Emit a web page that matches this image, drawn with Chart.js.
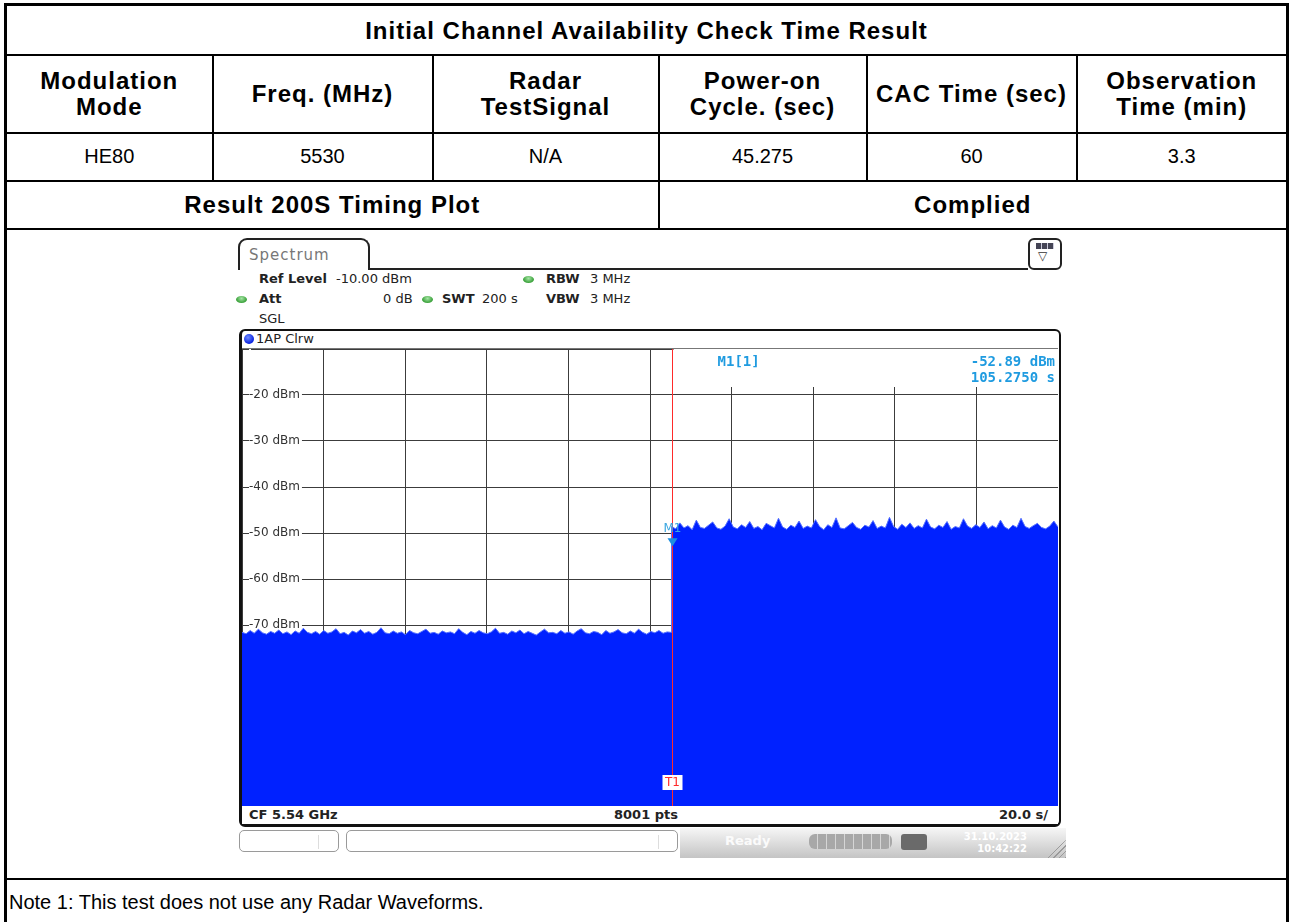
<!DOCTYPE html>
<html>
<head>
<meta charset="utf-8">
<script src="https://cdn.jsdelivr.net/npm/chart.js@4.4.1/dist/chart.umd.min.js"></script>
<style>
  body { margin: 0; width: 1291px; height: 922px; overflow: hidden; position: relative; background: #fff; font-family: "Liberation Sans", Arial, sans-serif; }
  table.result { position: absolute; left: 4px; top: 3px; width: 1285px; border-collapse: collapse; table-layout: fixed; border: 3px solid #000; }
  table.result td { border: 2px solid #000; text-align: center; vertical-align: middle; font-size: 20px; padding: 0; color: #000; }
  tr.title td, tr.head td, tr.res td { font-weight: bold; font-size: 24px; letter-spacing: 1px; }
  tr.title td { padding-top: 3px; }
  tr.head td { line-height: 26px; }
  tr.note td { text-align: left; padding-left: 2px; vertical-align: top; padding-top: 11px; }

  #shot { position: absolute; left: 236px; top: 236px; width: 830px; height: 623px; font-family: "DejaVu Sans", sans-serif; color: #222; }
  #shot .abs { position: absolute; }
  .tab { left: 2px; top: 2px; width: 132px; height: 32px; box-sizing: border-box; border: 2px solid #222; border-bottom: none; border-radius: 9px 9px 0 0; }
  .tabline { left: 134px; top: 32px; width: 658px; height: 2px; background: #222; }
  .menu { left: 792px; top: 2px; width: 34px; height: 32px; box-sizing: border-box; border: 2px solid #222; border-radius: 6px; }
  .info { font-size: 13px; line-height: 16px; white-space: nowrap; }
  .info b { font-weight: bold; }
  .led { width: 11px; height: 7px; border-radius: 50%; background: radial-gradient(ellipse at 50% 35%, #a6e6a6, #2f9a2f 75%); }
  .frame { left: 3px; top: 93px; width: 822px; height: 498px; box-sizing: border-box; border: 2px solid #111; border-left-width: 3px; border-bottom-width: 3px; border-radius: 6px; }
  .status { left: 6px; top: 570px; width: 816px; height: 18px; background: #fff; z-index: 2; font-size: 13px; font-weight: bold; line-height: 18px; }
  .status span { position: absolute; top: 0; }
  .btn { top: 594px; height: 22px; box-sizing: border-box; border: 1px solid #9a9a9a; border-radius: 5px; background: #fff; }
  .btn i { position: absolute; top: 4px; width: 1px; height: 14px; background: #ddd; }
  .bar { left: 444px; top: 592px; width: 386px; height: 30px; background: linear-gradient(to bottom, #f6f6f6, #c4c4c4); }
</style>
</head>
<body>
<table class="result">
  <colgroup>
    <col style="width:207px"><col style="width:220px"><col style="width:226px">
    <col style="width:208px"><col style="width:210px"><col style="width:211px">
  </colgroup>
  <tr class="title" style="height:50px"><td colspan="6">Initial Channel Availability Check Time Result</td></tr>
  <tr class="head" style="height:78px">
    <td>Modulation<br>Mode</td><td>Freq. (MHz)</td><td>Radar<br>TestSignal</td>
    <td>Power-on<br>Cycle. (sec)</td><td>CAC Time (sec)</td><td>Observation<br>Time (min)</td>
  </tr>
  <tr class="val" style="height:48px">
    <td>HE80</td><td>5530</td><td>N/A</td><td>45.275</td><td>60</td><td>3.3</td>
  </tr>
  <tr class="res" style="height:48px"><td colspan="3">Result 200S Timing Plot</td><td colspan="3">Complied</td></tr>
  <tr style="height:650px"><td colspan="6"></td></tr>
  <tr class="note" style="height:60px"><td colspan="6">Note 1: This test does not use any Radar Waveforms.</td></tr>
</table>

<div id="shot">
  <div class="abs tab"></div>
  <div class="abs info" style="left:13px;top:10px;font-size:15px;line-height:18px;letter-spacing:1px;color:#777">Spectrum</div>
  <div class="abs tabline"></div>
  <div class="abs menu">
    <div class="abs" style="left:6px;top:3px;width:18px;height:6px;background:repeating-linear-gradient(90deg,#445 0 5px,#ccd 5px 6px)"></div>
    <div class="abs" style="left:8px;top:9px;font-size:12px;line-height:14px;color:#333">&#9661;</div>
  </div>

  <div class="abs info" style="left:23px;top:35px"><b>Ref Level</b></div>
  <div class="abs info" style="left:100px;top:35px">-10.00 dBm</div>
  <div class="abs led" style="left:287px;top:40px"></div>
  <div class="abs info" style="left:310px;top:35px"><b>RBW</b></div>
  <div class="abs info" style="left:354px;top:35px">3 MHz</div>

  <div class="abs led" style="left:0px;top:60px"></div>
  <div class="abs info" style="left:23px;top:55px"><b>Att</b></div>
  <div class="abs info" style="left:147px;top:55px">0 dB</div>
  <div class="abs led" style="left:186px;top:60px"></div>
  <div class="abs info" style="left:206px;top:55px"><b>SWT</b></div>
  <div class="abs info" style="left:246px;top:55px">200 s</div>
  <div class="abs info" style="left:310px;top:55px"><b>VBW</b></div>
  <div class="abs info" style="left:354px;top:55px">3 MHz</div>
  <div class="abs info" style="left:23px;top:75px">SGL</div>

  <div class="abs frame"></div>
  <div class="abs" style="left:6px;top:112px;width:816px;height:1px;background:#777"></div>
  <div class="abs" style="left:8px;top:98px;width:10px;height:10px;border-radius:50%;background:radial-gradient(circle at 40% 35%,#6f8cff,#0a22e0 70%)"></div>
  <div class="abs info" style="left:20px;top:95px">1AP Clrw</div>

  <div class="abs" style="left:6px;top:113px;width:816px;height:460px"><canvas id="spectrumChart"></canvas></div>

  <div class="abs status">
    <span style="left:7px">CF 5.54 GHz</span>
    <span style="right:380px">8001 pts</span>
    <span style="right:10px">20.0 s/</span>
  </div>

  <div class="abs btn" style="left:3px;width:100px"><i style="left:78px"></i></div>
  <div class="abs btn" style="left:110px;width:332px"><i style="left:311px"></i></div>
  <div class="abs bar">
    <div class="abs info" style="left:45px;top:5px;color:#fbfbfb;font-weight:bold">Ready</div>
    <div class="abs" style="left:129px;top:6px;width:83px;height:15px;border-radius:6px;background:repeating-linear-gradient(90deg,#a8a8a8 0 8px,#d6d6d6 8px 9px)"></div>
    <div class="abs" style="left:221px;top:6px;width:26px;height:16px;border-radius:3px;background:#6a6a6a"></div>
    <div class="abs" style="right:39px;top:3px;font-size:10px;line-height:12px;font-weight:bold;color:#fff;text-align:right">31.10.2023<br>10:42:22</div>
    <div class="abs" style="left:364px;top:12px;width:22px;height:18px;clip-path:polygon(100% 0,100% 100%,0 100%);background:repeating-linear-gradient(135deg,transparent 0 3px,#9a9a9a 3px 4px)"></div>
  </div>
</div>

<script>
// y axis (dBm) labels shown inside the grid
const yTickValues = [-20, -30, -40, -50, -60, -70];
const yTickLabels = ['-20 dBm', '-30 dBm', '-40 dBm', '-50 dBm', '-60 dBm', '-70 dBm'];

// sweep 0..200 s, 20 s/div
const sweepStart = 0;
const sweepEnd = 200;

// marker M1 / T1
const markerTime = 105.275;
const markerLevel = -52.89;

// trace before power-on (0 .. 105.2 s), dBm
const beforeEnd = 105.2;
const levelsBefore = [
  -71.6, -71.9, -71.2, -71.8, -70.9, -71.7, -72.0, -71.4, -71.8, -71.1,
  -71.9, -71.5, -72.1, -71.3, -71.8, -70.7, -71.6, -71.9, -71.4, -72.0,
  -71.2, -71.8, -71.5, -70.8, -71.9, -71.6, -72.2, -71.3, -71.7, -71.0,
  -71.8, -71.4, -72.0, -71.6, -70.6, -71.7, -71.9, -71.3, -71.8, -71.5,
  -72.1, -71.2, -71.7, -71.9, -71.4, -70.9, -71.8, -71.6, -72.0, -71.3,
  -71.7, -71.5, -71.9, -70.8, -71.6, -72.1, -71.4, -71.8, -71.2, -71.7,
  -71.9, -71.5, -70.7, -71.8, -71.6, -72.0, -71.3, -71.7, -71.1, -71.9,
  -71.4, -71.8, -72.2, -71.5, -70.9, -71.7, -71.6, -71.9, -71.2, -71.8,
  -71.5, -72.0, -71.3, -70.8, -71.7, -71.9, -71.4, -71.6, -72.1, -71.2,
  -71.8, -71.5, -71.0, -71.7, -71.9, -71.3, -71.8, -70.9, -71.6, -72.0,
  -71.4, -71.7, -71.2, -71.8, -71.5, -71.6
];

// trace after power-on (105.3 .. 200 s), dBm
const afterStart = 105.3;
const levelsAfter = [
  -48.6, -49.1, -47.8, -48.9, -48.4, -49.3, -47.2, -48.8, -49.0, -48.3,
  -47.6, -48.9, -49.2, -48.5, -46.9, -48.7, -49.1, -48.2, -48.8, -47.5,
  -49.0, -48.6, -49.3, -47.9, -48.4, -48.9, -46.8, -48.7, -49.2, -48.3,
  -48.8, -47.4, -49.0, -48.5, -48.9, -47.1, -48.6, -49.3, -48.2, -48.8,
  -46.7, -48.9, -49.1, -48.4, -47.7, -48.8, -49.2, -48.3, -48.7, -47.3,
  -49.0, -48.5, -48.9, -46.6, -48.6, -49.2, -48.1, -48.8, -47.8, -49.0,
  -48.4, -48.9, -47.0, -48.7, -49.1, -48.3, -48.8, -47.5, -49.2, -48.6,
  -48.9, -46.9, -48.5, -49.0, -48.2, -48.8, -47.6, -49.1, -48.4, -48.9,
  -47.2, -48.7, -49.2, -48.3, -48.8, -46.8, -48.6, -49.0, -48.4, -47.9,
  -48.8, -49.1, -48.5, -47.4, -48.7
];

// place sweep samples evenly between two times
function spread(values, t0, t1) {
  const dt = (t1 - t0) / (values.length - 1);
  return values.map((v, i) => ({ x: t0 + i * dt, y: v }));
}

const trace = [
  ...spread(levelsBefore, sweepStart, beforeEnd),
  { x: markerTime, y: markerLevel },
  ...spread(levelsAfter, afterStart, sweepEnd)
];

const markerPlugin = {
  id: 'marker',
  beforeDatasetsDraw(chart) {
    const { ctx, chartArea: a, scales: { x } } = chart;
    const mx = x.getPixelForValue(markerTime);
    ctx.save();
    // marker readout covers the grid in the top right
    ctx.fillStyle = '#fff';
    ctx.fillRect(mx + 2, a.top, a.right - mx - 2, 38);
    ctx.fillStyle = '#1f9be0';
    ctx.font = 'bold 14px "DejaVu Sans Mono"';
    ctx.textBaseline = 'middle';
    ctx.textAlign = 'left';
    ctx.fillText('M1[1]', mx + 46, a.top + 13);
    ctx.textAlign = 'right';
    ctx.fillText(markerLevel.toFixed(2) + ' dBm', a.right - 3, a.top + 13);
    ctx.fillText(markerTime.toFixed(4) + ' s', a.right - 3, a.top + 29);
    ctx.restore();
  },
  afterDatasetsDraw(chart) {
    const { ctx, chartArea: a, scales: { x, y } } = chart;
    const mx = Math.round(x.getPixelForValue(markerTime)) + 0.5;
    const my = y.getPixelForValue(markerLevel);
    ctx.save();
    // T1 line
    ctx.strokeStyle = '#ff2a2a';
    ctx.lineWidth = 1;
    ctx.beginPath();
    ctx.moveTo(mx, a.top);
    ctx.lineTo(mx, a.bottom);
    ctx.stroke();
    // M1 triangle
    ctx.fillStyle = '#1e8fe0';
    ctx.beginPath();
    ctx.moveTo(mx - 5, my - 8);
    ctx.lineTo(mx + 5, my - 8);
    ctx.lineTo(mx, my);
    ctx.closePath();
    ctx.fill();
    ctx.fillStyle = '#3aa6e0';
    ctx.font = '12px "DejaVu Sans"';
    ctx.textAlign = 'center';
    ctx.textBaseline = 'middle';
    ctx.fillText('M1', mx, my - 17);
    // T1 label
    ctx.fillStyle = '#fff';
    ctx.fillRect(mx - 10, a.bottom - 34, 20, 15);
    ctx.fillStyle = '#ff2a2a';
    ctx.font = '12px "DejaVu Sans"';
    ctx.fillText('T1', mx, a.bottom - 26);
    ctx.restore();
  }
};

const gridColor = '#3c3c3c';

new Chart(document.getElementById('spectrumChart').getContext('2d'), {
  type: 'line',
  data: {
    datasets: [{
      data: trace,
      borderColor: '#5470ff',
      borderWidth: 1,
      backgroundColor: '#0021ff',
      fill: 'start',
      pointRadius: 0,
      tension: 0
    }]
  },
  options: {
    responsive: true,
    maintainAspectRatio: false,
    animation: false,
    layout: { padding: 0 },
    plugins: { legend: { display: false }, tooltip: { enabled: false } },
    scales: {
      x: {
        type: 'linear',
        min: sweepStart,
        max: sweepEnd,
        afterFit: s => { s.height = 0; s.paddingLeft = 0; s.paddingRight = 0; },
        ticks: { display: false, stepSize: 20 },
        grid: { color: gridColor, drawTicks: false },
        border: { display: false }
      },
      y: {
        min: -110,
        max: -10,
        afterFit: s => { s.width = 0; s.paddingTop = 0; s.paddingBottom = 0; },
        ticks: {
          stepSize: 10,
          autoSkip: false,
          mirror: true,
          padding: 7,
          color: '#333',
          font: { family: 'DejaVu Sans', size: 12 },
          showLabelBackdrop: true,
          backdropColor: '#fff',
          backdropPadding: { top: 0, bottom: 0, left: 0, right: 2 },
          callback: v => {
            const i = yTickValues.indexOf(v);
            return i < 0 ? '' : yTickLabels[i];
          }
        },
        grid: { color: gridColor, drawTicks: false },
        border: { display: false }
      }
    }
  },
  plugins: [markerPlugin]
});
</script>
</body>
</html>
